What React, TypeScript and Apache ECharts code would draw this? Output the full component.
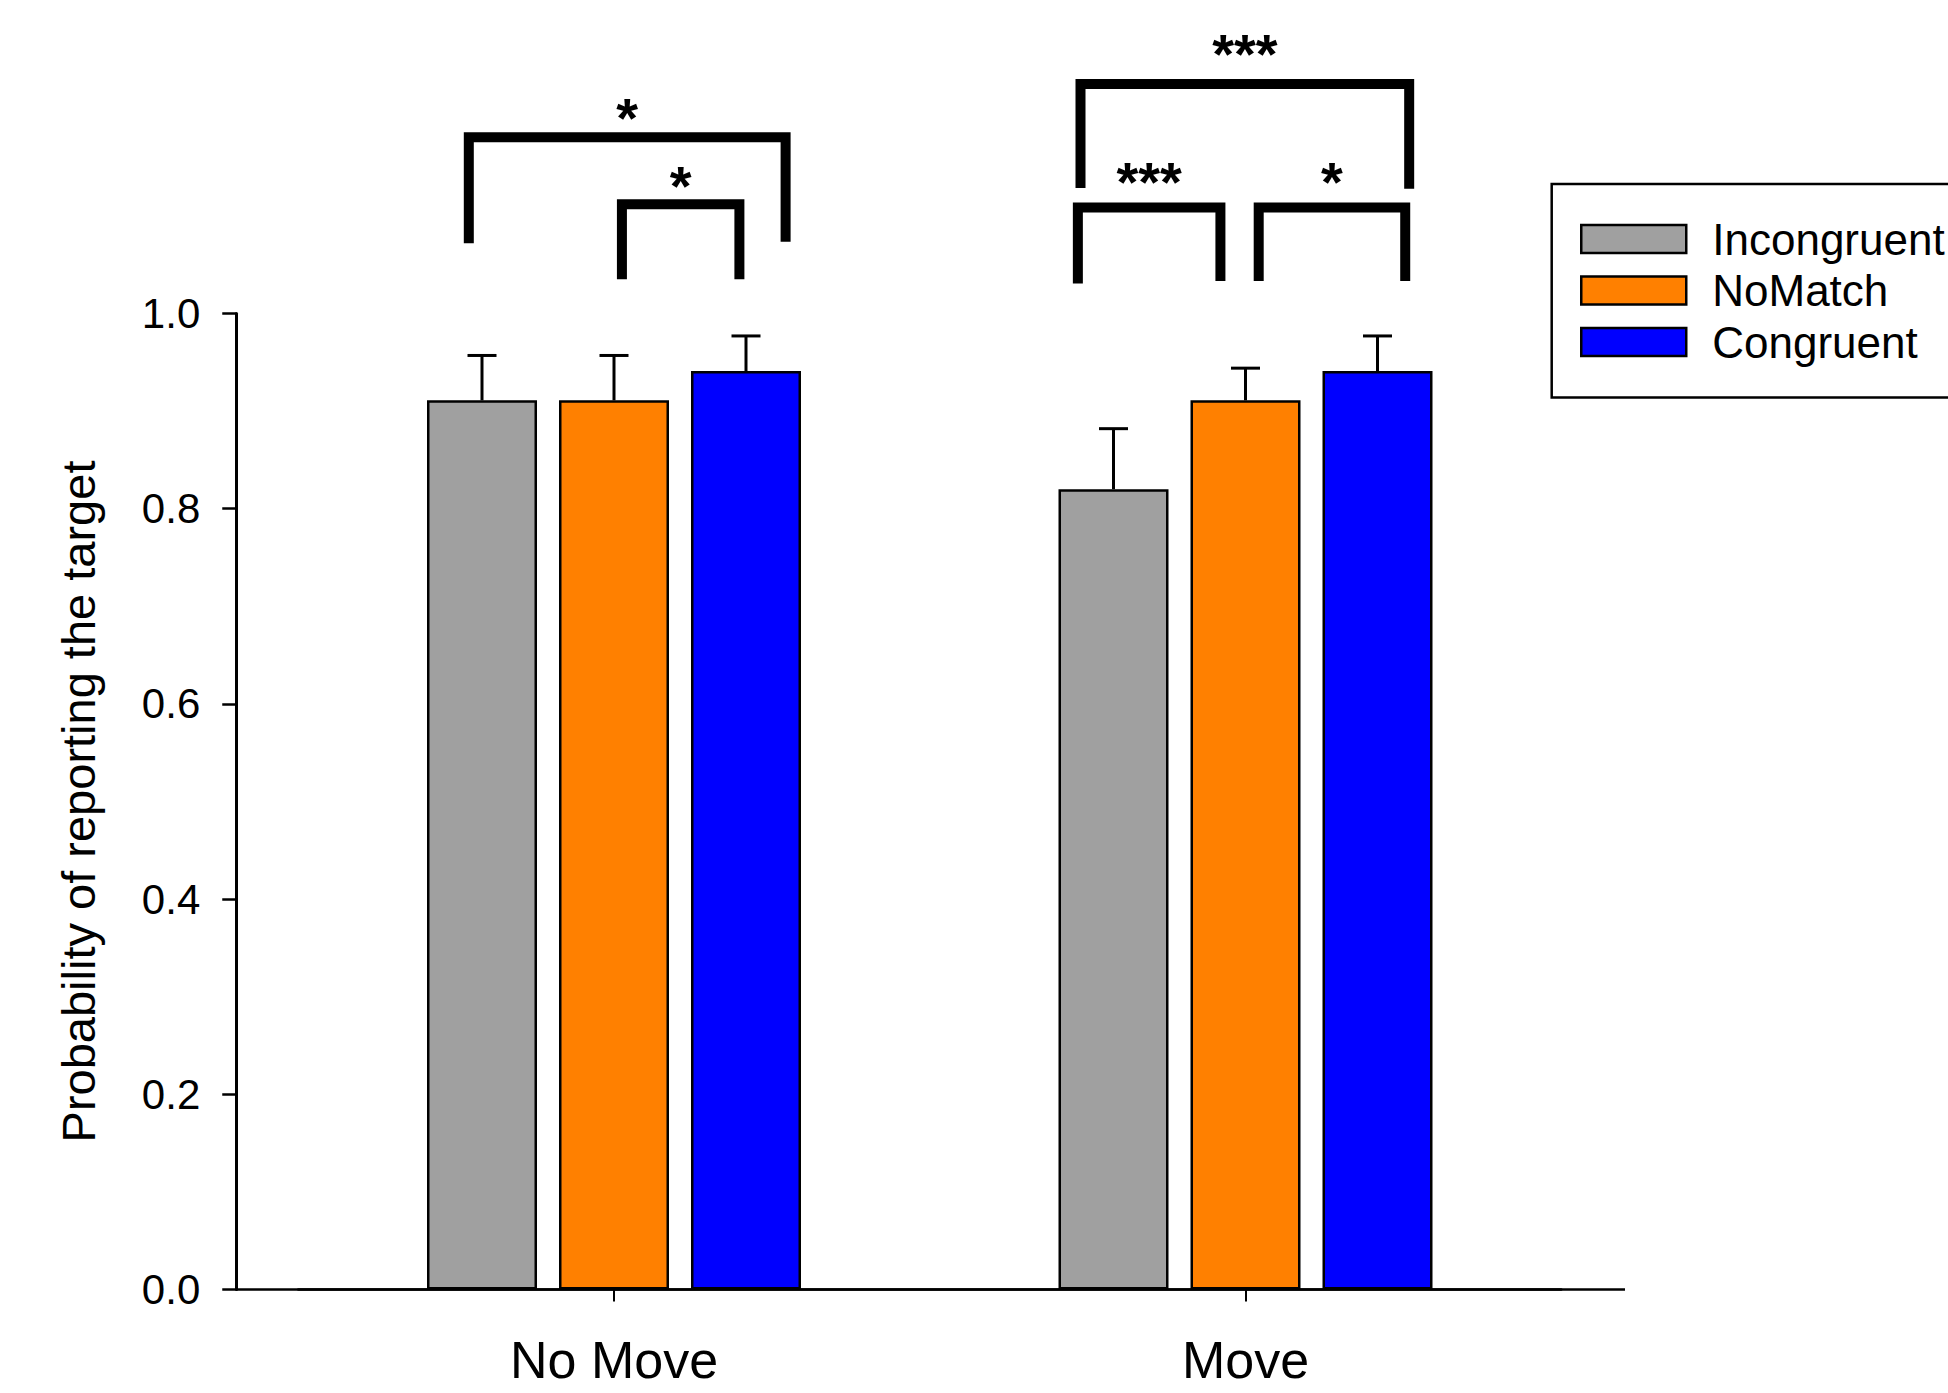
import React, { useEffect, useRef } from 'react';
import * as echarts from 'echarts';

// ---- data ----
const categories = ['No Move', 'Move'];
const seriesNames = ['Incongruent', 'NoMatch', 'Congruent'];
const incongruent = [0.911, 0.82];
const noMatch = [0.911, 0.911];
const congruent = [0.941, 0.941];
const incongruentErr = [0.046, 0.062];
const noMatchErr = [0.046, 0.033];
const congruentErr = [0.036, 0.036];
const yAxisTitle = 'Probability of reporting the target';

// significance brackets (category, ends in bar slots from the middle bar, levels in y units)
const bracketCat = [0, 0, 1, 1, 1];
const bracketFrom = [-1.1, 0.06, -1.25, -1.27, 0.1];
const bracketTo = [1.3, 0.95, 1.24, -0.19, 1.21];
const bracketTop = [1.1805, 1.112, 1.2351, 1.1087, 1.1087];
const bracketLeftEnd = [1.072, 1.0351, 1.1285, 1.0308, 1.0334];
const bracketRightEnd = [1.0734, 1.0351, 1.1278, 1.0334, 1.0334];
const bracketStarLevel = [1.2125, 1.1423, 1.2781, 1.1469, 1.1469];
const bracketStars = ['*', '*', '***', '***', '*'];

// ---- styles ----
const COLORS = ['#A0A0A0', '#FF8000', '#0000FF'];
const FONT = 'Liberation Sans, Arial, sans-serif';
const BAR_W = 110;
const BAR_GAP = 22;
const PITCH = BAR_W + BAR_GAP;
const CAP = 14.5;
const STAR_SIZE = 56;

export default function App() {
  const ref = useRef<HTMLDivElement>(null);
  useEffect(() => {
    const chart = echarts.init(ref.current!, null, { renderer: 'svg' });
    const means = [incongruent, noMatch, congruent];
    const errs = [incongruentErr, noMatchErr, congruentErr];

    const barSeries = seriesNames.map((name, s) => ({
      name,
      type: 'bar',
      data: means[s],
      barWidth: BAR_W,
      barGap: (BAR_GAP / BAR_W) * 100 + '%',
      itemStyle: { color: COLORS[s], borderColor: '#000', borderWidth: 2.5 },
      z: 2,
    }));

    const errSeries = seriesNames.map((name, s) => ({
      name: name + ' error',
      type: 'custom',
      clip: false,
      z: 3,
      encode: { x: 0, y: 1 },
      data: categories.map((_, i) => [i, means[s][i], errs[s][i]]),
      renderItem: (params: any, api: any) => {
        const c = api.value(0);
        const m = api.value(1);
        const e = api.value(2);
        const base = api.coord([c, m]);
        const top = api.coord([c, m + e]);
        const x = base[0] + (s - 1) * PITCH;
        return {
          type: 'group',
          children: [
            { type: 'line', shape: { x1: x, y1: base[1], x2: x, y2: top[1] }, style: { stroke: '#000', lineWidth: 3 } },
            { type: 'line', shape: { x1: x - CAP, y1: top[1], x2: x + CAP, y2: top[1] }, style: { stroke: '#000', lineWidth: 3 } },
          ],
        };
      },
    }));

    const bracketSeries = {
      name: 'significance',
      type: 'custom',
      clip: false,
      z: 4,
      encode: { x: 0, y: 3 },
      data: bracketCat.map((c, i) => [c, bracketFrom[i], bracketTo[i], bracketTop[i], bracketLeftEnd[i], bracketRightEnd[i], bracketStarLevel[i], i]),
      renderItem: (params: any, api: any) => {
        const c = api.value(0);
        const center = api.coord([c, 0])[0];
        const xl = center + api.value(1) * PITCH;
        const xr = center + api.value(2) * PITCH;
        const yt = api.coord([c, api.value(3)])[1];
        const yl = api.coord([c, api.value(4)])[1];
        const yr = api.coord([c, api.value(5)])[1];
        const ys = api.coord([c, api.value(6)])[1];
        const idx = api.value(7);
        return {
          type: 'group',
          children: [
            {
              type: 'polyline',
              shape: { points: [[xl, yl], [xl, yt], [xr, yt], [xr, yr]] },
              style: { stroke: '#000', lineWidth: 10, fill: 'none', lineJoin: 'miter', lineCap: 'butt' },
            },
            {
              type: 'text',
              x: (xl + xr) / 2,
              y: ys + 0.2 * STAR_SIZE,
              style: {
                text: bracketStars[idx],
                fontSize: STAR_SIZE,
                fontWeight: 'bold',
                fontFamily: FONT,
                fill: '#000',
                align: 'center',
                verticalAlign: 'middle',
              },
            },
          ],
        };
      },
    };

    chart.setOption({
      animation: false,
      backgroundColor: '#fff',
      textStyle: { fontFamily: FONT, color: '#000' },
      grid: { left: 298.25, top: 313.5, width: 1263, height: 976 },
      legend: {
        data: seriesNames,
        orient: 'vertical',
        left: 1551.7,
        top: 184,
        padding: [32.5, 40, 33, 28.3],
        itemWidth: 105,
        itemHeight: 28,
        itemGap: 6.5,
        icon: 'rect',
        borderColor: '#000',
        borderWidth: 2.5,
        itemStyle: { borderColor: '#000', borderWidth: 2.5 },
        textStyle: { fontSize: 44, fontFamily: FONT, color: '#000', lineHeight: 45, padding: [0, 0, 0, 21] },
      },
      xAxis: {
        type: 'category',
        data: categories,
        axisLine: { show: true, lineStyle: { color: '#000', width: 2.5 } },
        axisTick: { show: true, alignWithLabel: true, length: 12, lineStyle: { color: '#000', width: 2 } },
        axisLabel: { fontSize: 52, color: '#000', margin: 44, fontFamily: FONT },
        splitLine: { show: false },
      },
      yAxis: {
        type: 'value',
        min: 0,
        max: 1,
        interval: 0.2,
        offset: 62,
        name: yAxisTitle,
        nameLocation: 'middle',
        nameRotate: 90,
        nameGap: 134,
        nameTextStyle: { fontSize: 47, color: '#000', fontFamily: FONT },
        axisLine: { show: true, lineStyle: { color: '#000', width: 3 } },
        axisTick: { show: true, inside: false, length: 14, lineStyle: { color: '#000', width: 2.5 } },
        axisLabel: { fontSize: 42, color: '#000', margin: 36, fontFamily: FONT, formatter: (v: number) => v.toFixed(1) },
        splitLine: { show: false },
      },
      graphic: [
        {
          type: 'line',
          shape: { x1: 236, y1: 1289.5, x2: 1625, y2: 1289.5 },
          style: { stroke: '#000', lineWidth: 2.5 },
          z: 1,
        },
      ],
      series: [...barSeries, ...errSeries, bracketSeries],
    });
    return () => chart.dispose();
  }, []);
  return (
    <div
      ref={ref}
      style={{ position: 'absolute', left: 0, top: 0, width: 1948, height: 1393, background: '#fff' }}
    />
  );
}
